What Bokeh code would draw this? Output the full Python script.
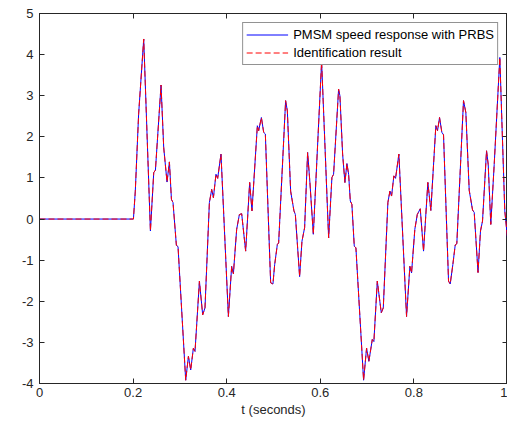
from bokeh.plotting import figure
from bokeh.models import LinearAxis, Range1d, FixedTicker, Legend, LegendItem, CustomJSTickFormatter
from bokeh.embed import file_html
from bokeh.resources import INLINE

# ---- data ----
t_vals = [0.0, 0.2007, 0.2047, 0.2118, 0.2227, 0.2370, 0.2441, 0.2477, 0.2597, 0.2654,
          0.2725, 0.2776, 0.2819, 0.2853, 0.2925, 0.2960, 0.3124, 0.3182, 0.3231, 0.3288,
          0.3323, 0.3417, 0.3487, 0.3536, 0.3630, 0.3679, 0.3716, 0.3771, 0.3807, 0.3878,
          0.4036, 0.4106, 0.4143, 0.4213, 0.4271, 0.4320, 0.4405, 0.4491, 0.4540, 0.4655,
          0.4683, 0.4741, 0.4790, 0.4826, 0.4939, 0.4988, 0.5025, 0.5082, 0.5110, 0.5259,
          0.5296, 0.5366, 0.5437, 0.5467, 0.5558, 0.5608, 0.5665, 0.5729, 0.5778, 0.5851,
          0.6028, 0.6178, 0.6248, 0.6284, 0.6391, 0.6419, 0.6477, 0.6526, 0.6569, 0.6605,
          0.6641, 0.6675, 0.6726, 0.6761, 0.6925, 0.6989, 0.7038, 0.7111, 0.7145, 0.7218,
          0.7303, 0.7346, 0.7444, 0.7487, 0.7523, 0.7572, 0.7608, 0.7679, 0.7843, 0.7914,
          0.7950, 0.8020, 0.8072, 0.8136, 0.8206, 0.8298, 0.8362, 0.8469, 0.8505, 0.8548,
          0.8597, 0.8633, 0.8740, 0.8776, 0.8832, 0.8883, 0.8917, 0.9060, 0.9110, 0.9182,
          0.9253, 0.9289, 0.9370, 0.9423, 0.9466, 0.9552, 0.9588, 0.9643, 0.9716, 0.9836,
          0.9942, 1.0]

speed_vals = [0.0, 0.0, 0.68, 2.55, 4.38, -0.29, 1.13, 1.19, 3.26, 1.74,
              0.90, 1.39, 0.48, 0.40, -0.64, -0.67, -3.92, -3.34, -3.67, -3.14,
              -3.22, -1.51, -2.33, -2.16, 0.40, 0.72, 0.52, 1.09, 0.99, 1.58,
              -2.37, -1.15, -1.33, -0.25, 0.11, 0.13, -0.78, 0.89, 0.20, 2.27,
              2.15, 2.47, 2.11, 2.07, -1.55, -1.58, -1.11, -0.62, -0.58, 2.88,
              2.63, 0.68, 0.20, 0.11, -1.40, -0.54, -0.21, 1.62, 0.89, -0.37,
              3.83, -0.46, 1.01, 1.09, 3.16, 3.00, 1.58, 0.89, 1.35, 1.09,
              0.44, 0.36, -0.66, -0.70, -3.92, -3.14, -3.46, -2.93, -2.98, -1.51,
              -2.28, -2.16, 0.40, 0.68, 0.56, 1.05, 0.99, 1.58, -2.37, -1.15,
              -1.31, -0.25, 0.11, 0.25, -0.78, 0.89, 0.21, 2.27, 2.15, 2.47,
              2.11, 2.05, -1.51, -1.58, -1.11, -0.63, -0.60, 2.88, 2.59, 0.70,
              0.22, 0.16, -1.30, -0.29, -0.05, 1.66, 1.33, -0.13, 1.33, 3.93,
              0.20, -0.46]

# identification result overlaps the measured response in the picture
ident_vals = list(speed_vals)

x_ticks = [0, 0.2, 0.4, 0.6, 0.8, 1]
x_tick_labels = ["0", "0.2", "0.4", "0.6", "0.8", "1"]
y_ticks = [-4, -3, -2, -1, 0, 1, 2, 3, 4, 5]
y_tick_labels = ["-4", "-3", "-2", "-1", "0", "1", "2", "3", "4", "5"]

FONT = "Liberation Sans"
AX = "#262626"

p = figure(width=507, height=430, output_backend="svg", toolbar_location=None,
           x_range=Range1d(0, 1), y_range=Range1d(-4, 5),
           min_border_left=39, min_border_right=0, min_border_top=13, min_border_bottom=47)
p.xgrid.visible = False
p.ygrid.visible = False
p.outline_line_color = AX
p.outline_line_width = 1
p.background_fill_color = "white"

r1 = p.line(t_vals, speed_vals, line_color="#0000FF", line_width=1)
r2 = p.line(t_vals, ident_vals, line_color="#FF0000", line_width=1, line_dash="6 3")

for ax, ticks, labels in ((p.xaxis[0], x_ticks, x_tick_labels), (p.yaxis[0], y_ticks, y_tick_labels)):
    ax.ticker = FixedTicker(ticks=ticks)
    ax.major_label_overrides = {tk: lb for tk, lb in zip(ticks, labels)}
    ax.major_tick_in = 5
    ax.major_tick_out = 0
    ax.minor_tick_line_color = None
    ax.axis_line_color = AX
    ax.major_tick_line_color = AX
    ax.major_label_text_color = AX
    ax.major_label_text_font = FONT
    ax.major_label_text_font_size = "13px"

p.xaxis.major_label_standoff = 4
p.yaxis.major_label_standoff = 6
p.xaxis.axis_label = "t (seconds)"
p.xaxis.axis_label_text_font = FONT
p.xaxis.axis_label_text_font_size = "13px"
p.xaxis.axis_label_text_font_style = "normal"
p.xaxis.axis_label_text_color = AX
p.xaxis.axis_label_standoff = 2

blank = "return ''"
top_ax = LinearAxis(ticker=FixedTicker(ticks=x_ticks), formatter=CustomJSTickFormatter(code=blank),
                    major_tick_in=5, major_tick_out=0, minor_tick_line_color=None,
                    major_label_standoff=0, axis_line_color=AX, major_tick_line_color=AX)
right_ax = LinearAxis(ticker=FixedTicker(ticks=y_ticks), formatter=CustomJSTickFormatter(code=blank),
                      major_tick_in=5, major_tick_out=0, minor_tick_line_color=None,
                      major_label_standoff=0, axis_line_color=AX, major_tick_line_color=AX)
p.add_layout(top_ax, "above")
p.add_layout(right_ax, "right")

legend = Legend(items=[LegendItem(label="PMSM speed response with PRBS", renderers=[r1]),
                       LegendItem(label="Identification result", renderers=[r2])],
                location="top_right", margin=9, padding=3, spacing=1,
                glyph_width=42, glyph_height=17, label_height=17, label_standoff=5,
                label_text_font=FONT, label_text_font_size="13px", label_text_color="#000000",
                border_line_color=AX, border_line_width=1, background_fill_color="white",
                background_fill_alpha=1.0)
p.add_layout(legend)

open("out.html", "w").write(file_html(p, INLINE))
